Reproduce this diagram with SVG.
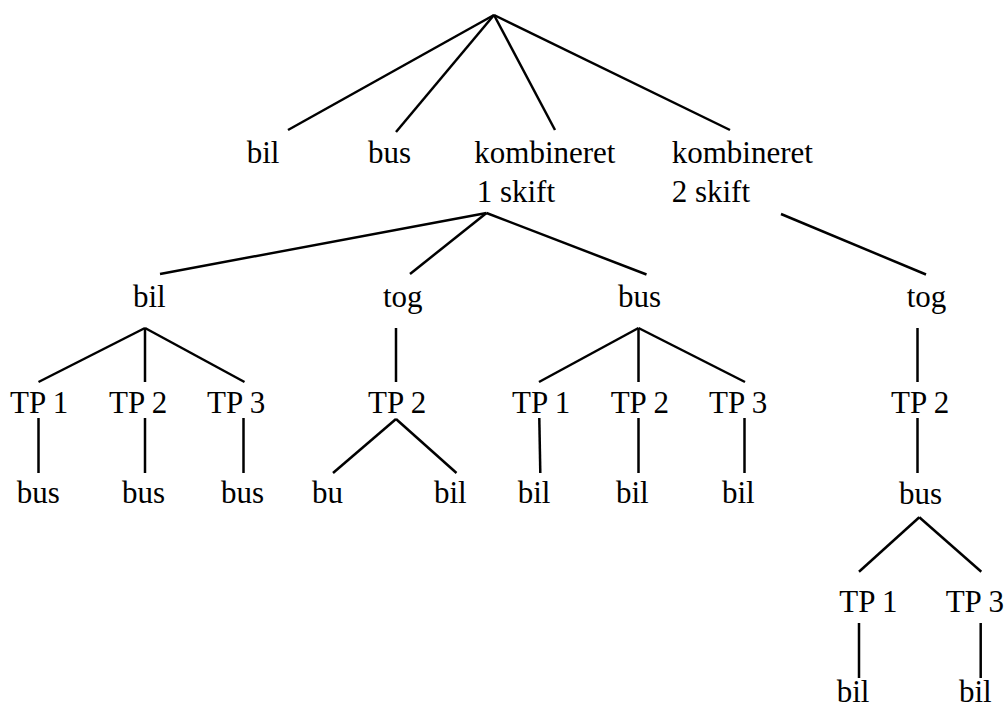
<svg xmlns="http://www.w3.org/2000/svg" width="1005" height="709" viewBox="0 0 1005 709">
<style>
text { font-family: "Liberation Serif", "Times New Roman", "DejaVu Serif", serif; font-size: 31px; fill: #000; }
.c line { stroke: #000; stroke-width: 2.5; stroke-linecap: butt; }
</style>
<rect width="1005" height="709" fill="#fff"/>
<g class="c" id="connectors">
<line x1="494" y1="15" x2="288" y2="130"/>
<line x1="494" y1="15" x2="396" y2="132"/>
<line x1="494" y1="15" x2="555" y2="130"/>
<line x1="494" y1="15" x2="730" y2="130"/>
<line x1="486.5" y1="213" x2="160" y2="274"/>
<line x1="486.5" y1="213" x2="410" y2="274"/>
<line x1="486.5" y1="213" x2="646.5" y2="274.5"/>
<line x1="781" y1="214" x2="926" y2="274.5"/>
<line x1="145" y1="328" x2="38.5" y2="382"/>
<line x1="145" y1="328" x2="145" y2="382"/>
<line x1="145" y1="328" x2="244.5" y2="382"/>
<line x1="396" y1="328" x2="396" y2="382"/>
<line x1="638.5" y1="328" x2="539" y2="382"/>
<line x1="638.5" y1="328" x2="638.5" y2="382"/>
<line x1="638.5" y1="328" x2="745" y2="382"/>
<line x1="917.5" y1="328" x2="917.5" y2="382"/>
<line x1="38.5" y1="418" x2="38.5" y2="473"/>
<line x1="145" y1="418" x2="145" y2="473"/>
<line x1="243.5" y1="418" x2="243.5" y2="473"/>
<line x1="396" y1="419" x2="333" y2="473"/>
<line x1="396" y1="419" x2="456.5" y2="473"/>
<line x1="539.3" y1="418" x2="540.3" y2="473"/>
<line x1="638.5" y1="418" x2="638.5" y2="473"/>
<line x1="744.5" y1="418" x2="744.5" y2="473"/>
<line x1="917.5" y1="418" x2="917.5" y2="473"/>
<line x1="919.3" y1="517.3" x2="859" y2="571.7"/>
<line x1="919.3" y1="517.3" x2="981.3" y2="571.7"/>
<line x1="859" y1="623" x2="859" y2="678"/>
<line x1="980.7" y1="623" x2="980.7" y2="678"/>
</g>
<g id="n-bil1"><text x="246.7" y="163.3">bil</text></g>
<g id="n-bus1"><text x="368" y="163.3">bus</text></g>
<g id="n-komb1"><text x="474.3" y="163.3">kombineret</text><text x="476.7" y="201.7">1 skift</text></g>
<g id="n-komb2"><text x="671.7" y="163.3">kombineret</text><text x="671.7" y="201.7">2 skift</text></g>
<g id="n-k1-bil"><text x="133" y="307">bil</text></g>
<g id="n-k1-tog"><text x="383" y="307">tog</text></g>
<g id="n-k1-bus"><text x="618" y="307">bus</text></g>
<g id="n-k2-tog"><text x="906.7" y="307">tog</text></g>
<g id="n-bil-tp1"><text x="10" y="413">TP 1</text></g>
<g id="n-bil-tp2"><text x="109" y="413">TP 2</text></g>
<g id="n-bil-tp3"><text x="207" y="413">TP 3</text></g>
<g id="n-tog-tp2"><text x="368" y="413">TP 2</text></g>
<g id="n-bus-tp1"><text x="512" y="413">TP 1</text></g>
<g id="n-bus-tp2"><text x="610.7" y="413">TP 2</text></g>
<g id="n-bus-tp3"><text x="709" y="413">TP 3</text></g>
<g id="n-k2-tp2"><text x="891" y="413">TP 2</text></g>
<g id="n-bil-tp1-bus"><text x="16.7" y="503">bus</text></g>
<g id="n-bil-tp2-bus"><text x="122" y="503">bus</text></g>
<g id="n-bil-tp3-bus"><text x="221" y="503">bus</text></g>
<g id="n-tog-bu"><text x="312" y="503">bu</text></g>
<g id="n-tog-bil"><text x="434" y="503">bil</text></g>
<g id="n-bus-tp1-bil"><text x="517.7" y="503">bil</text></g>
<g id="n-bus-tp2-bil"><text x="616" y="503">bil</text></g>
<g id="n-bus-tp3-bil"><text x="722" y="503">bil</text></g>
<g id="n-k2-bus"><text x="899" y="504">bus</text></g>
<g id="n-k2-tp1"><text x="839.3" y="611.7">TP 1</text></g>
<g id="n-k2-tp3"><text x="945.7" y="611.7">TP 3</text></g>
<g id="n-k2-tp1-bil"><text x="836.7" y="702">bil</text></g>
<g id="n-k2-tp3-bil"><text x="959" y="702">bil</text></g>
</svg>
